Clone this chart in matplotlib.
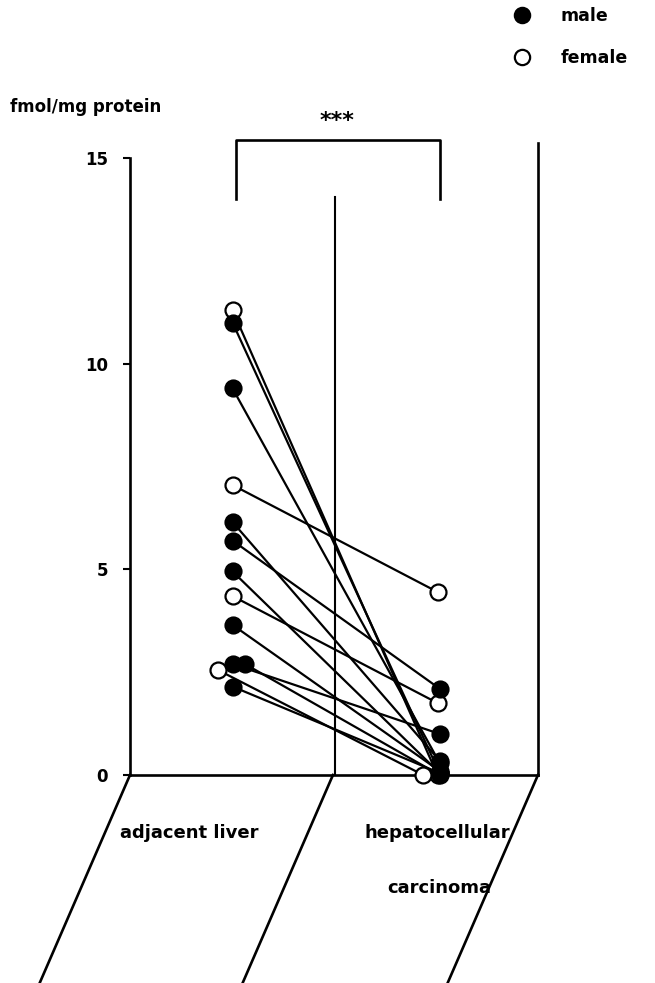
import numpy as np
import matplotlib
matplotlib.use('Agg')
import matplotlib.pyplot as plt
from matplotlib.lines import Line2D

plt.rcParams['font.family'] = ['DejaVu Sans']
plt.rcParams['font.weight'] = 'bold'

# receptor content (fmol/mg protein), one pair per patient
tissues = ['adjacent liver', 'hepatocellular', 'carcinoma']
liver = [11.3, 11.0, 9.4, 7.05, 6.15, 5.7, 4.95, 4.35, 3.65, 2.7, 2.7, 2.55, 2.15]
tumour = [0.0, 0.05, 0.3, 4.45, 0.35, 2.1, 0.05, 1.75, 0.1, 1.0, 0.0, 0.0, 0.05]
sex = ['F', 'M', 'M', 'F', 'M', 'M', 'M', 'F', 'M', 'M', 'M', 'F', 'M']
yticks = [0, 5, 10, 15]

# small horizontal offsets so overlapping circles stay visible
dx_left = [0, 0, 0, 0, 0, 0, 0, 0, 0, 0, 0.06, -0.07, 0]
dx_right = [0, 0.01, 0.01, 0, 0.01, 0.01, 0.01, 0, 0.01, 0.01, 0.01, -0.07, 0.01]

fig = plt.figure(figsize=(6.55, 9.83), dpi=100)
ax = fig.add_axes([130 / 655, 208 / 983, 410 / 655, 617 / 983])
ax.set_xlim(-0.5, 1.5)
ax.set_ylim(0, 15)

lw = 1.9
for i in range(len(liver)):
    x0, x1 = 0 + dx_left[i], 1 + dx_right[i]
    ax.plot([x0, x1], [liver[i], tumour[i]], color='k', lw=1.6, zorder=2,
            solid_capstyle='round')
for i in range(len(liver)):
    fc = 'k' if sex[i] == 'M' else 'white'
    ax.plot(0 + dx_left[i], liver[i], 'o', ms=11.5, mfc=fc, mec='k', mew=1.6,
            zorder=3, clip_on=False)
    ax.plot(1 + dx_right[i], tumour[i], 'o', ms=11.5, mfc=fc, mec='k', mew=1.6,
            zorder=3 + (sex[i] == 'M'), clip_on=False)

# pseudo 3-D frame
for s in ['top', 'right', 'bottom']:
    ax.spines[s].set_visible(False)
ax.spines['left'].set_linewidth(lw)
ax.plot([-0.5, 1.49], [0, 0], color='k', lw=lw, clip_on=False)
ax.plot([0.5, 0.5], [0, 14.05], color='k', lw=1.5, clip_on=False)
ax.plot([1.49, 1.49], [0, 15.37], color='k', lw=lw, clip_on=False)
for xb in [-0.5, 0.49, 1.49]:
    ax.plot([xb, xb - 0.44], [0, -5.05], color='k', lw=lw, clip_on=False)

# significance bracket
ax.plot([0.015, 0.015, 1.01, 1.01], [14.0, 15.44, 15.44, 14.0], color='k',
        lw=lw, clip_on=False)
ax.text(0.51, 15.9, '***', ha='center', va='center', fontsize=16,
        fontweight='bold')

ax.set_xticks([])
ax.set_yticks(yticks)
ax.set_yticklabels([str(t) for t in yticks], fontsize=12, fontweight='bold')
ax.tick_params(axis='y', length=5, width=1.5, pad=11)

ax.text(-0.21, -1.4, tissues[0], ha='center', va='center', fontsize=13,
        fontweight='bold')
ax.text(1.0, -1.4, tissues[1], ha='center', va='center', fontsize=13,
        fontweight='bold')
ax.text(1.01, -2.75, tissues[2], ha='center', va='center', fontsize=13,
        fontweight='bold')

fig.text(10 / 655, 1 - 107 / 983, 'fmol/mg protein', ha='left', va='center',
         fontsize=12, fontweight='bold')

handles = [Line2D([], [], marker='o', ls='none', ms=11, mfc='k', mec='k', mew=1.6),
           Line2D([], [], marker='o', ls='none', ms=11, mfc='white', mec='k', mew=1.6)]
fig.legend(handles, ['male', 'female'], loc='upper left',
           bbox_to_anchor=(513 / 655, 1 - 7 / 983), frameon=False, fontsize=12.5,
           labelspacing=1.4, handlelength=1.0, handletextpad=1.75,
           borderpad=0, borderaxespad=0)

fig.savefig('out.png', dpi=100)
